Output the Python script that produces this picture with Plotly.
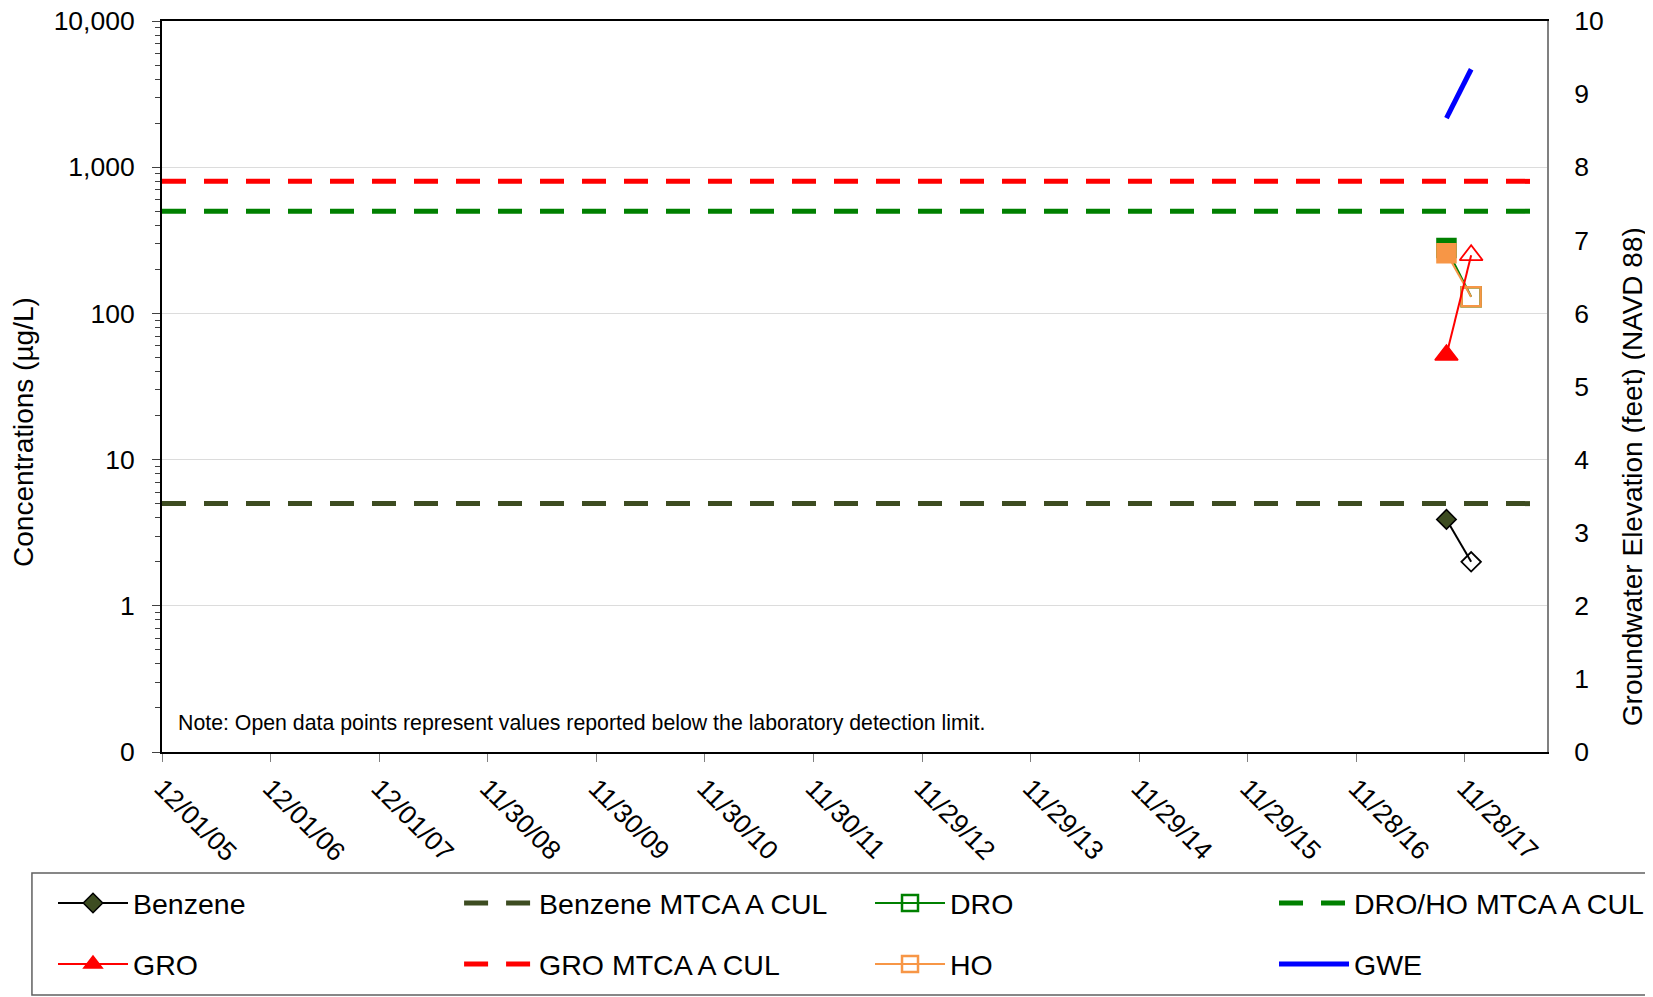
import plotly.graph_objects as go

# sampling dates and results
sample_dates = ["2017-09-27", "2017-12-19"]
benzene = [3.9, 2.0]
benzene_nd = [False, True]
gro = [52, 250]
gro_nd = [False, True]
dro = [280, 130]
dro_nd = [False, True]
ho = [258, 130]
ho_nd = [False, True]
gwe = [8.67, 9.34]

# cleanup levels (drawn across the whole axis)
cul_dates = ["2005-12-01", "2018-08-31"]
benzene_cul = 5
gro_cul = 800
dro_ho_cul = 500

tick_dates = ["2005-12-01", "2006-12-01", "2007-12-01", "2008-11-30", "2009-11-30",
              "2010-11-30", "2011-11-30", "2012-11-29", "2013-11-29", "2014-11-29",
              "2015-11-29", "2016-11-28", "2017-11-28"]
tick_labels = ["12/01/05", "12/01/06", "12/01/07", "11/30/08", "11/30/09",
               "11/30/10", "11/30/11", "11/29/12", "11/29/13", "11/29/14",
               "11/29/15", "11/28/16", "11/28/17"]

y_ticks = [0.1, 1, 10, 100, 1000, 10000]
y_labels = ["0", "1", "10", "100", "1,000", "10,000"]

FONT = "Liberation Sans, Arial, sans-serif"
OLIVE = "#3d4c21"
DASH = "24px,18px"

fig = go.Figure()


def analyte(name, vals, nd, color, fill, symbol, size, legend, edge, open_leg):
    det_x = [d for d, n in zip(sample_dates, nd) if not n]
    det_y = [v for v, n in zip(vals, nd) if not n]
    nd_x = [d for d, n in zip(sample_dates, nd) if n]
    nd_y = [v for v, n in zip(vals, nd) if n]
    fig.add_trace(go.Scatter(x=sample_dates, y=vals, mode="lines", showlegend=False,
                             line=dict(color=color, width=2), hoverinfo="skip"))
    fig.add_trace(go.Scatter(
        x=det_x, y=det_y, mode="lines+markers", name=name, showlegend=not open_leg,
        legend=legend, line=dict(color=color, width=2),
        marker=dict(symbol=symbol, size=size, color=fill,
                    line=dict(color=edge, width=1.5))))
    fig.add_trace(go.Scatter(
        x=nd_x, y=nd_y, mode="lines+markers", name=name, showlegend=open_leg,
        legend=legend, line=dict(color=color, width=2),
        marker=dict(symbol=symbol + "-open", size=size, color=color,
                    line=dict(color=color, width=2.5 if open_leg else 1.8))))


def cul(name, level, color, legend):
    fig.add_trace(go.Scatter(x=cul_dates, y=[level, level], mode="lines", name=name,
                             legend=legend,
                             line=dict(color=color, width=5, dash=DASH)))


cul("Benzene MTCA A CUL", benzene_cul, OLIVE, "legend2")
cul("DRO/HO MTCA A CUL", dro_ho_cul, "#008000", "legend4")
cul("GRO MTCA A CUL", gro_cul, "#ff0000", "legend6")
analyte("Benzene", benzene, benzene_nd, "black", OLIVE, "diamond", 15, "legend", "black", False)
analyte("DRO", dro, dro_nd, "#008000", "#008000", "square", 19, "legend3", "#008000", True)
analyte("HO", ho, ho_nd, "#f79646", "#f79646", "square", 19, "legend7", "#f79646", True)
analyte("GRO", gro, gro_nd, "#ff0000", "#ff0000", "triangle-up", 20, "legend5", "#ff0000", False)

fig.add_trace(go.Scatter(x=sample_dates, y=gwe, mode="lines", name="GWE", yaxis="y2",
                         legend="legend8", line=dict(color="#0000ff", width=5)))

tick_font = dict(family=FONT, size=26.5, color="black")


def leg(x, y):
    return dict(x=x, y=y, orientation="h", xanchor="left", yanchor="middle",
                font=dict(family=FONT, size=28.5, color="black"),
                bgcolor="rgba(0,0,0,0)", borderwidth=0, itemwidth=70)


col_x = [-0.0787, 0.2145, 0.5112, 0.8029]
row_y = [-0.2073, -0.2908]

# the page body adds an 8px offset, so the figure is 8px smaller than the window
fig.update_layout(
    width=1645, height=989,
    margin=dict(l=154, r=106, t=13, b=245, autoexpand=False),
    paper_bgcolor="white", plot_bgcolor="white",
    font=dict(family=FONT, color="black"),
    xaxis=dict(type="date", range=cul_dates, tickvals=tick_dates, ticktext=tick_labels,
               tickangle=45, tickfont=tick_font, showgrid=False, zeroline=False,
               showline=True, linecolor="black", linewidth=2, mirror=True,
               ticks="outside", ticklen=8, tickcolor="#808080"),
    yaxis=dict(type="log", range=[-1, 4], tickvals=y_ticks, ticktext=y_labels,
               tickfont=tick_font, showline=True, linecolor="black", linewidth=2,
               ticks="outside", ticklen=8, tickcolor="#404040", ticklabelstandoff=12,
               ticklabeloverflow="allow",
               showgrid=True, gridcolor="#dcdcdc", gridwidth=1, zeroline=False,
               minor=dict(dtick="D1", ticks="outside", ticklen=5, tickcolor="#404040",
                          showgrid=False)),
    yaxis2=dict(overlaying="y", side="right", range=[0, 10], dtick=1,
                tickfont=tick_font, showgrid=False, zeroline=False,
                showline=True, linecolor="#808080", linewidth=2, ticks="",
                ticklabelstandoff=20, ticklabeloverflow="allow"),
    legend=leg(col_x[0], row_y[0]),
    legend2=leg(col_x[1], row_y[0]),
    legend3=leg(col_x[2], row_y[0]),
    legend4=leg(col_x[3], row_y[0]),
    legend5=leg(col_x[0], row_y[1]),
    legend6=leg(col_x[1], row_y[1]),
    legend7=leg(col_x[2], row_y[1]),
    legend8=leg(col_x[3], row_y[1]),
    shapes=[dict(type="rect", xref="paper", yref="paper", x0=-0.0939, x1=1.08,
                 y0=-0.1655, y1=-0.3324, line=dict(color="#606060", width=1.5))],
    annotations=[
        dict(text="Note: Open data points represent values reported below the laboratory detection limit.",
             xref="paper", yref="paper", x=0.0101, y=0.0397, xanchor="left",
             yanchor="middle", showarrow=False,
             font=dict(family=FONT, size=21.3, color="black")),
        dict(text="Concentrations (µg/L)", xref="paper", yref="paper", x=-0.1004, y=0.4377,
             textangle=-90, showarrow=False, xanchor="center", yanchor="middle",
             font=dict(family=FONT, size=28, color="black")),
        dict(text="Groundwater Elevation (feet) (NAVD 88)", xref="paper", yref="paper",
             x=1.0614, y=0.376, textangle=-90, showarrow=False, xanchor="center",
             yanchor="middle", font=dict(family=FONT, size=28, color="black")),
    ],
)

fig.write_html("out.html")
